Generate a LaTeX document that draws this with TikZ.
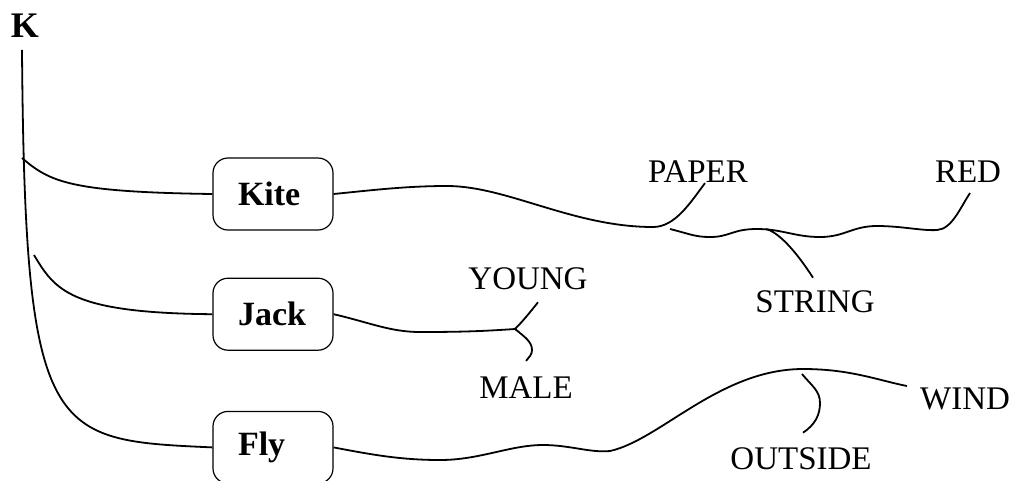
\documentclass[tikz,border=0pt]{standalone}
\usepackage{fontspec}
\setmainfont{Liberation Serif}
\usetikzlibrary{positioning}
\tikzstyle{concept} = [rectangle, draw, rounded corners=15pt, minimum width=120pt, minimum height=72pt, text width=70pt, align=left, inner xsep=25pt, line width=1.2pt, font=\fontsize{34}{40}\selectfont\bfseries]
\tikzstyle{word} = [inner sep=0pt, font=\fontsize{33}{40}\selectfont]
\tikzstyle{link} = [line width=1.8pt]

\begin{document}
\begin{tikzpicture}[x=1pt, y=-1pt]
    \useasboundingbox (0,0) rectangle (1016,480);

    % Root
    \node[inner sep=0pt, font=\fontsize{36}{40}\selectfont\bfseries] (k) at (25,26) {K};

    % Concepts
    \node[concept] (kite) at (273,194) {Kite};
    \node[concept, below=47pt of kite] (jack) {Jack};
    \node[concept, below=60pt of jack] (fly) {Fly};

    % Words
    \node[word] (paper) at (698,172) {PAPER};
    \node[word] (red) at (968,172) {RED};
    \node[word] (string) at (815,302) {STRING};
    \node[word] (young) at (528,279) {YOUNG};
    \node[word] (male) at (526,388) {MALE};
    \node[word] (wind) at (965,399) {WIND};
    \node[word] (outside) at (801,459) {OUTSIDE};

    % Free ends
    \coordinate (kitefork) at (22,158);
    \coordinate (jackfork) at (34,255);
    \coordinate (stringstart) at (670,229);
    \coordinate (stringcrest) at (766,229);
    \coordinate (jackjoint) at (515,329);
    \coordinate (flypeak) at (802,374);

    % Trunk and branches
    \draw[link] ([xshift=-3pt, yshift=-12pt]k.south) .. controls (25,440) and (50,440) .. (fly.west);
    \draw[link] (kitefork) .. controls (50,182) and (70,192) .. (kite.west);
    \draw[link] (jackfork) .. controls (55,290) and (70,313) .. (jack.west);

    % Kite
    \draw[link] (kite.east) .. controls +(40,-4) and +(-40,0) .. (447,186)
        .. controls +(60,0) and +(-80,0) .. (653,227)
        .. controls +(22,0) and +(-15,20) .. ([xshift=7pt]paper.south);
    \draw[link] (stringstart) .. controls +(20,5) and +(-15,0) .. (710,237)
        .. controls +(20,0) and +(-25,0) .. (757,229)
        .. controls +(25,0) and +(-25,0) .. (820,237)
        .. controls +(25,0) and +(-25,0) .. (877,226)
        .. controls +(25,0) and +(-15,1) .. (937,230)
        .. controls +(15,-1) and +(-10,15) .. ([xshift=2pt, yshift=-10pt]red.south);
    \draw[link] (stringcrest) .. controls +(12,3) and +(-18,-28) .. ([xshift=-2pt, yshift=13pt]string.north);

    % Jack
    \draw[link] (jack.east) .. controls +(35,8) and +(-30,0) .. (420,332)
        .. controls +(45,0) and +(-30,2) .. (jackjoint);
    \draw[link] (jackjoint) .. controls +(8,-8) and +(-8,10) .. ([xshift=10pt, yshift=-12pt]young.south);
    \draw[link] (jackjoint) .. controls +(10,8) and +(0,-8) .. (532,350)
        .. controls +(0,5) and +(3,-4) .. ([yshift=16pt]male.north);

    % Fly
    \draw[link] (fly.east) .. controls +(37,7) and +(-40,0) .. (440,460)
        .. controls +(40,0) and +(-33,0) .. (543,445)
        .. controls +(27,0) and +(-20,2) .. (610,451)
        .. controls +(50,-11) and +(-83,0) .. (803,369)
        .. controls +(47,0) and +(-30,-6) .. ([xshift=-13pt, yshift=13pt]wind.west);
    \draw[link] (flypeak) .. controls +(10,12) and +(0,-12) .. (820,403)
        .. controls +(0,12) and +(12,-8) .. ([xshift=2pt, yshift=15pt]outside.north);
\end{tikzpicture}
\end{document}
